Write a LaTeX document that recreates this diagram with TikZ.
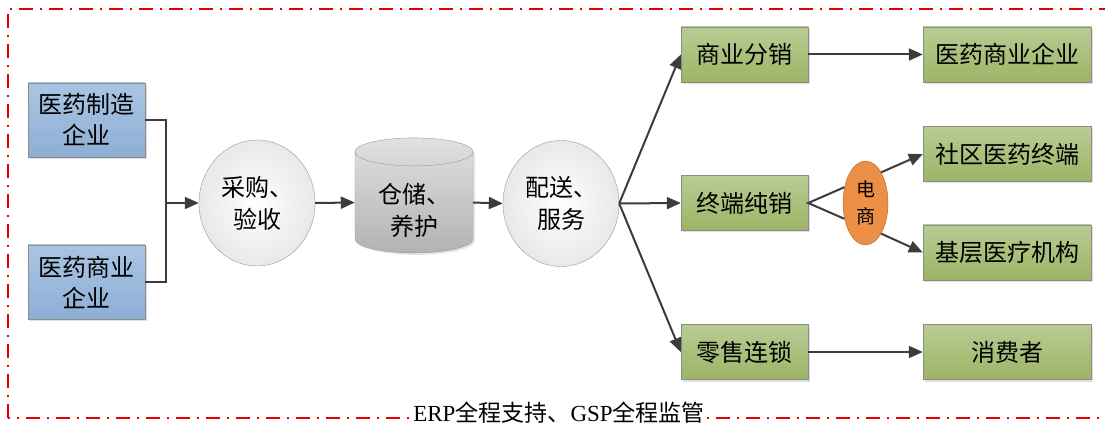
\documentclass[tikz,border=0pt]{standalone}
\usepackage{fontspec}
\setmainfont{Liberation Serif}
\newfontfamily\cjk{Noto Sans CJK SC}
\usepackage{tikz}
\usetikzlibrary{arrows.meta,shapes.geometric,shadows}

\definecolor{lanA}{HTML}{A9C5E3}
\definecolor{lanB}{HTML}{8DAED4}
\definecolor{lvA}{HTML}{B8CC93}
\definecolor{lvB}{HTML}{9CB466}
\definecolor{juA}{HTML}{EC9048}
\definecolor{juB}{HTML}{E07F30}
\definecolor{xian}{HTML}{3C3C3C}

\begin{document}
\begin{tikzpicture}
	[x=1pt,y=-1pt,
	qybox/.style={rectangle,draw=black!45,top color=lanA,bottom color=lanB,
		minimum width=117pt,minimum height=74pt,inner sep=0pt,align=center,
		drop shadow={shadow xshift=2pt,shadow yshift=-2pt,fill=black!25},
		font=\cjk\fontsize{24}{31}\selectfont},
	grbox/.style={rectangle,draw=black!45,top color=lvA,bottom color=lvB,
		minimum height=55pt,inner sep=0pt,
		drop shadow={shadow xshift=2pt,shadow yshift=-2pt,fill=black!25},
		font=\cjk\fontsize{24}{28}\selectfont},
	flow/.style={ellipse,draw=black!40,inner color=white,outer color=black!9,
		minimum width=116pt,minimum height=126pt,inner sep=0pt,align=center,
		font=\cjk\fontsize{24}{32}\selectfont},
	ecom/.style={ellipse,draw=juB!80!black,fill=juA,
		minimum width=45pt,minimum height=84pt,inner sep=0pt,align=center,
		font=\cjk\fontsize{19}{27}\selectfont},
	link/.style={draw=xian,line width=2pt,-{Triangle[length=14pt,width=12pt]}}]
\useasboundingbox (0,0) rectangle (1105,430);
% marco
\draw[red!90!black,line width=1.8pt,dash pattern=on 14pt off 7pt on 2pt off 7pt]
(8,418) -- (8,9) -- (1115,9) -- (1115,418) -- cycle;
% empresas
\node (mfg) at (86.5,120) [qybox] {医药制造\\企业};
\node (biz) at (86.5,282) [qybox] {医药商业\\企业};
\coordinate (join) at (166,203);
% proceso
\node (caigou) at (257,203) [flow] {采购、\\验收};
\node (cang) at (414,202.5) [cylinder,shape border rotate=90,aspect=0.35,
	draw=black!40,top color=black!12,bottom color=black!30,
	minimum width=118pt,minimum height=115pt,inner sep=0pt,
	drop shadow={shadow xshift=2pt,shadow yshift=-2pt,fill=black!20},
	font=\cjk\fontsize{24}{32}\selectfont]
	{\raisebox{-14pt}[0pt][0pt]{\parbox{80pt}{\centering 仓储、\\养护}}};
\node (peisong) at (561,203.5) [flow] {配送、\\服务};
% canales
\node (fx) at (744.5,54.5) [grbox,minimum width=127pt] {商业分销};
\node (zd) at (744.5,203) [grbox,minimum width=127pt] {终端纯销};
\node (ls) at (744.5,352) [grbox,minimum width=127pt] {零售连锁};
\node (ds) at (865.5,203) [ecom] {电\\商};
% destinos
\node (yy) at (1007,54.5) [grbox,minimum width=168pt] {医药商业企业};
\node (sq) at (1007,154) [grbox,minimum width=168pt] {社区医药终端};
\node (jc) at (1007,252.5) [grbox,minimum width=168pt] {基层医疗机构};
\node (xf) at (1007,352) [grbox,minimum width=168pt] {消费者};
% flechas
\draw[xian,line width=2pt] (mfg.east) -| (join) |- (biz.east);
\draw[link] (join) -- (caigou.west);
\draw[link] (caigou.east) -- (cang.west);
\draw[link] (cang.east) -- (peisong.west);
\draw[link] (peisong.east) -- (fx.west);
\draw[link] (peisong.east) -- (zd.west);
\draw[link] (peisong.east) -- (ls.west);
\draw[link] (fx.east) -- (yy.west);
\draw[link] (ls.east) -- (xf.west);
\draw[xian,line width=2pt] (ds.143) -- (zd.east) -- (ds.217);
\draw[link] (ds.63) -- (sq.west);
\draw[link] (ds.-63) -- (jc.west);
% texto inferior
\node (gsp) at (559,413) [fill=white,inner sep=1pt,font=\fontsize{23}{26}\selectfont]
{ERP{\cjk 全程支持、}GSP{\cjk 全程监管}};
\end{tikzpicture}
\end{document}
